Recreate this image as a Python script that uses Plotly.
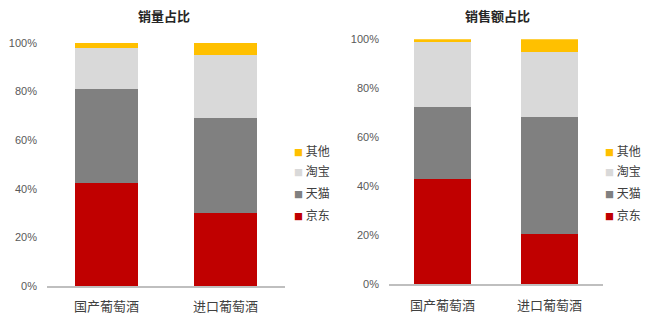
import plotly.graph_objects as go

categories = ["国产葡萄酒", "进口葡萄酒"]
series_names = ["京东", "天猫", "淘宝", "其他"]
series_colors = ["#C00000", "#808080", "#D9D9D9", "#FFC000"]

# 销量占比 (%)
vol_jd = [42.3, 30.2]
vol_tmall = [38.8, 38.8]
vol_taobao = [17.0, 26.1]
vol_other = [1.9, 4.9]

# 销售额占比 (%)
amt_jd = [43.1, 20.7]
amt_tmall = [29.1, 47.7]
amt_taobao = [26.7, 26.3]
amt_other = [1.1, 5.3]

y_ticks = [0, 20, 40, 60, 80, 100]
y_tick_labels = ["0%", "20%", "40%", "60%", "80%", "100%"]
titles = ["销量占比", "销售额占比"]

W, H = 650, 332
cjk = "Noto Sans CJK SC"

fig = go.Figure()
vol = [vol_jd, vol_tmall, vol_taobao, vol_other]
amt = [amt_jd, amt_tmall, amt_taobao, amt_other]
for name, color, vals in zip(series_names, series_colors, vol):
    fig.add_trace(go.Bar(x=categories, y=vals, name=name, marker_color=color,
                         marker_line_width=0, xaxis="x", yaxis="y", showlegend=False))
for name, color, vals in zip(series_names, series_colors, amt):
    fig.add_trace(go.Bar(x=categories, y=vals, name=name, marker_color=color,
                         marker_line_width=0, xaxis="x2", yaxis="y2", showlegend=False))


def xa(dom, anchor):
    return dict(domain=dom, anchor=anchor, showline=True, linecolor="#BFBFBF", linewidth=1.5,
                showgrid=False, ticks="", fixedrange=True,
                tickfont=dict(family=cjk, size=13, color="#404040"), ticklabelstandoff=8)


def ya(dom, anchor):
    return dict(domain=dom, anchor=anchor, range=[0, 100], tickmode="array",
                tickvals=y_ticks, ticktext=y_tick_labels,
                showgrid=False, zeroline=False, showline=False, ticks="", fixedrange=True,
                tickfont=dict(family="Liberation Sans", size=11, color="#595959"),
                ticklabelstandoff=9)


fig.update_layout(
    template="none",
    width=W, height=H, autosize=False,
    margin=dict(l=0, r=0, t=0, b=0),
    paper_bgcolor="white", plot_bgcolor="white",
    barmode="stack", bargap=0.47,
    showlegend=False,
)
fig.update_layout(
    xaxis=xa([47 / W, 285 / W], "y"),
    yaxis=ya([1 - 286 / H, 1 - 43 / H], "x"),
    xaxis2=xa([389 / W, 603 / W], "y2"),
    yaxis2=ya([1 - 284.3 / H, 1 - 39.3 / H], "x2"),
)

annotations = []
for t, cx in zip(titles, [164, 497]):
    annotations.append(dict(text="<b>" + t + "</b>", x=cx / W, y=1 - 15 / H, xref="paper", yref="paper",
                            xanchor="center", yanchor="middle", showarrow=False,
                            font=dict(family=cjk, size=13, color="#262626")))

# legends (top to bottom: 其他, 淘宝, 天猫, 京东)
legend_y = [150.5, 170.5, 192, 214]
for lx in [292, 603]:
    for i, (name, color) in enumerate(zip(series_names[::-1], series_colors[::-1])):
        annotations.append(dict(
            text="<span style='color:%s;font-size:9px'>■</span> %s" % (color, name),
            x=lx / W, y=1 - legend_y[i] / H, xref="paper", yref="paper",
            xanchor="left", yanchor="middle", showarrow=False,
            font=dict(family=cjk, size=12, color="#404040")))

fig.update_layout(annotations=annotations)
fig.write_html("out.html")
